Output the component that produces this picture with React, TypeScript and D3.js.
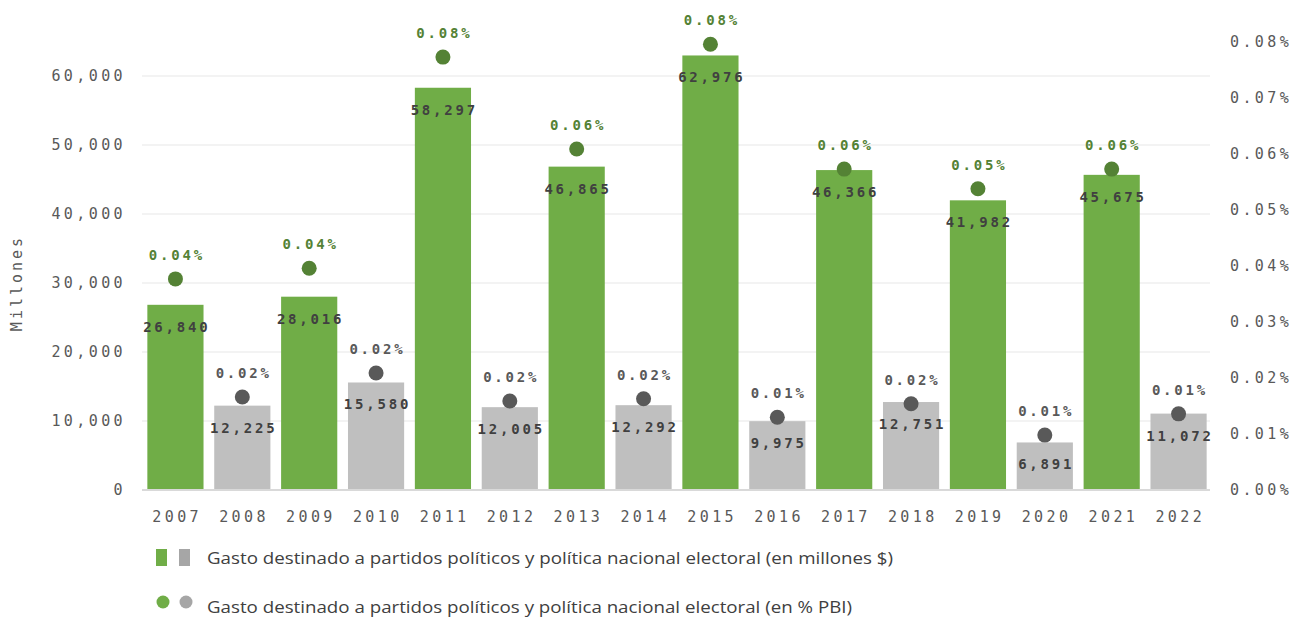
import React from "react";
import { scaleBand, scaleLinear } from "d3";

const years = ["2007", "2008", "2009", "2010", "2011", "2012", "2013", "2014", "2015", "2016", "2017", "2018", "2019", "2020", "2021", "2022"];
const gasto = [26840, 12225, 28016, 15580, 58297, 12005, 46865, 12292, 62976, 9975, 46366, 12751, 41982, 6891, 45675, 11072];
const pctPbi = [0.0377, 0.0166, 0.0396, 0.0209, 0.0773, 0.0159, 0.0609, 0.0163, 0.0796, 0.013, 0.0573, 0.0154, 0.0538, 0.0098, 0.0573, 0.0136];
const pctLabels = ["0.04%", "0.02%", "0.04%", "0.02%", "0.08%", "0.02%", "0.06%", "0.02%", "0.08%", "0.01%", "0.06%", "0.02%", "0.05%", "0.01%", "0.06%", "0.01%"];
const leftTicks = [0, 10000, 20000, 30000, 40000, 50000, 60000];
const rightTicks = [0, 0.01, 0.02, 0.03, 0.04, 0.05, 0.06, 0.07, 0.08];
const legendLabels = [
  "Gasto destinado a partidos políticos y política nacional electoral (en millones $)",
  "Gasto destinado a partidos políticos y política nacional electoral (en % PBI)",
];

const GREEN = "#70ad47";
const GREEN_DARK = "#548235";
const GRAY = "#bfbfbf";
const GRAY_DOT = "#595959";
const DIGI = "'DejaVu Sans Mono', monospace";

export default function App() {
  const W = 1296;
  const H = 617;
  const plot = { left: 142, right: 1212, top: 42, bottom: 490 };

  const x = scaleBand<string>().domain(years).range([plot.left, plot.right]).paddingInner(0.16).paddingOuter(0.08);
  const y = scaleLinear().domain([0, 60000]).range([plot.bottom, 76]);
  const y2 = scaleLinear().domain([0, 0.08]).range([plot.bottom, plot.top]);

  const fmt = (v: number) => v.toLocaleString("en-US");
  const isGreen = (i: number) => i % 2 === 0;

  return (
    <svg width={W} height={H} style={{ position: "absolute", left: 0, top: 0, background: "#fff" }}>
      {/* grid */}
      {leftTicks.slice(1).map((t) => (
        <line key={t} x1={plot.left} x2={1210} y1={y(t)} y2={y(t)} stroke="#efefef" strokeWidth={1.5} />
      ))}
      {/* left tick labels */}
      {leftTicks.map((t) => (
        <text key={t} x={126} y={y(t)} dy="0.35em" textAnchor="end" fontFamily={DIGI} fontSize={15} letterSpacing={3.4} fill="#595959">
          {fmt(t)}
        </text>
      ))}
      {/* right tick labels */}
      {rightTicks.map((t) => (
        <text key={t} x={1230} y={y2(t)} dy="0.35em" textAnchor="start" fontFamily={DIGI} fontSize={15} letterSpacing={3.4} fill="#595959">
          {t.toFixed(2) + "%"}
        </text>
      ))}
      <text transform="translate(22,283) rotate(-90)" textAnchor="middle" fontFamily={DIGI} fontSize={15} letterSpacing={3} fill="#595959">
        Millones
      </text>

      {/* bars */}
      {years.map((yr, i) => (
        <rect key={yr} x={x(yr)} y={y(gasto[i])} width={x.bandwidth()} height={plot.bottom - y(gasto[i])} fill={isGreen(i) ? GREEN : GRAY} />
      ))}
      <line x1={plot.left} x2={1210} y1={plot.bottom} y2={plot.bottom} stroke="#d9d9d9" strokeWidth={2} />

      {/* x tick labels */}
      {years.map((yr) => (
        <text key={yr} x={(x(yr) ?? 0) + x.bandwidth() / 2 + 1.7} y={517} dy="0.35em" textAnchor="middle" fontFamily={DIGI} fontSize={15} letterSpacing={3.4} fill="#595959">
          {yr}
        </text>
      ))}

      {/* bar value labels */}
      {years.map((yr, i) => (
        <text key={yr} x={(x(yr) ?? 0) + x.bandwidth() / 2 + 1.4} y={y(gasto[i]) + 22} dy="0.35em" textAnchor="middle" fontFamily={DIGI} fontSize={14} fontWeight="bold" letterSpacing={2.8} fill="#404040">
          {fmt(gasto[i])}
        </text>
      ))}

      {/* dots + percent labels */}
      {years.map((yr, i) => {
        const cx = (x(yr) ?? 0) + x.bandwidth() / 2;
        const cy = y2(pctPbi[i]);
        return (
          <g key={yr}>
            <circle cx={cx} cy={cy} r={7.5} fill={isGreen(i) ? GREEN_DARK : GRAY_DOT} />
            <text x={cx + 1.4} y={cy - 24} dy="0.35em" textAnchor="middle" fontFamily={DIGI} fontSize={14} fontWeight="bold" letterSpacing={2.8} fill={isGreen(i) ? GREEN_DARK : GRAY_DOT}>
              {pctLabels[i]}
            </text>
          </g>
        );
      })}

      {/* legend */}
      <rect x={156} y={549} width={11} height={17} fill={GREEN} />
      <rect x={179} y={549} width={11} height={17} fill="#a6a6a6" />
      <text x={207} y={558} dy="0.35em" fontFamily="'Open Sans', sans-serif" fontSize={17} fill="#404040" textLength={686} lengthAdjust="spacingAndGlyphs">
        {legendLabels[0]}
      </text>
      <circle cx={163} cy={602} r={6.5} fill={GREEN} />
      <circle cx={186} cy={602} r={6.5} fill="#a6a6a6" />
      <text x={207} y={607} dy="0.35em" fontFamily="'Open Sans', sans-serif" fontSize={17} fill="#404040" textLength={645} lengthAdjust="spacingAndGlyphs">
        {legendLabels[1]}
      </text>
    </svg>
  );
}
